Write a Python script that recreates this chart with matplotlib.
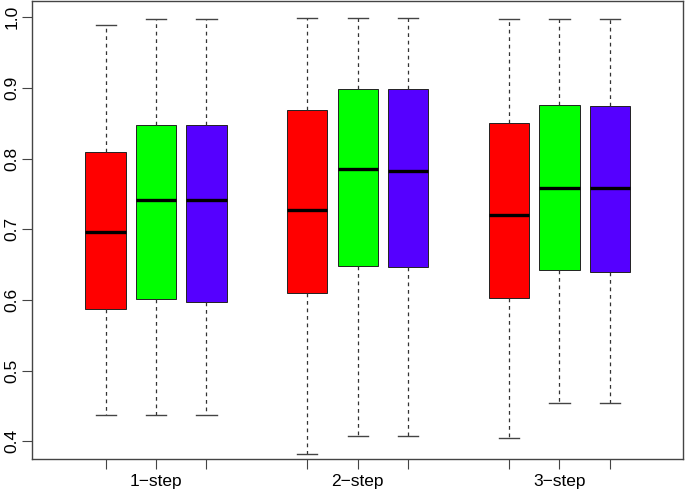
import matplotlib.pyplot as plt

plt.rcParams['font.family'] = ['Liberation Sans', 'DejaVu Sans']

# five-number summaries, per group and method
groups = ['1\u2212step', '2\u2212step', '3\u2212step']
colors = ['#ff0000', '#00ff00', '#5500ff']

low_whisker = [[0.437, 0.437, 0.437],
               [0.382, 0.407, 0.407],
               [0.405, 0.454, 0.454]]
q1 = [[0.587, 0.601, 0.597],
      [0.610, 0.648, 0.647],
      [0.603, 0.643, 0.640]]
median = [[0.696, 0.741, 0.742],
          [0.728, 0.786, 0.783],
          [0.720, 0.758, 0.758]]
q3 = [[0.810, 0.847, 0.847],
      [0.869, 0.898, 0.899],
      [0.851, 0.876, 0.874]]
high_whisker = [[0.989, 0.998, 0.998],
                [0.999, 0.999, 0.999],
                [0.998, 0.998, 0.998]]

fig = plt.figure(figsize=(6.85, 4.90), dpi=100)
ax = fig.add_axes([32 / 685, 1 - 459 / 490, 651 / 685, 458 / 490])

stats = []
positions = []
fills = []
for g in range(3):
    for m in range(3):
        stats.append({'whislo': low_whisker[g][m], 'q1': q1[g][m],
                      'med': median[g][m], 'q3': q3[g][m],
                      'whishi': high_whisker[g][m], 'fliers': []})
        positions.append(g * 4 + m + 1)
        fills.append(colors[m])

bp = ax.bxp(stats, positions=positions, widths=0.8, patch_artist=True,
            showfliers=False,
            boxprops=dict(edgecolor='#222222', linewidth=0.7),
            medianprops=dict(color='black', linewidth=2.4, solid_capstyle='butt'),
            whiskerprops=dict(color='#333333', linewidth=0.9, linestyle=(0, (3, 3))),
            capprops=dict(color='#444444', linewidth=1.0),
            capwidths=0.4)
for patch, c in zip(bp['boxes'], fills):
    patch.set_facecolor(c)

ax.set_xlim(-0.46, 12.45)
ax.set_ylim(0.375, 1.023)

ax.set_xticks(positions)
labels = []
for i, p in enumerate(positions):
    labels.append(groups[i // 3] if i % 3 == 1 else '')
ax.set_xticklabels(labels, fontsize=12.5)
ax.set_yticks([0.4, 0.5, 0.6, 0.7, 0.8, 0.9, 1.0])
ax.set_yticklabels(['0.4', '0.5', '0.6', '0.7', '0.8', '0.9', '1.0'],
                   rotation=90, va='center', fontsize=12.5)
ax.tick_params(axis='both', direction='out', length=7, width=0.8, color='#444444')
ax.tick_params(axis='x', pad=4)
ax.tick_params(axis='y', pad=2)
for s in ax.spines.values():
    s.set_color('#444444')
    s.set_linewidth(1.0)

fig.savefig('out.png', dpi=100)
